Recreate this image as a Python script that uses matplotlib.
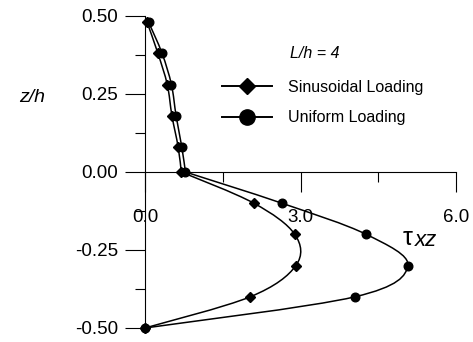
import numpy as np
import matplotlib
matplotlib.use("Agg")
import matplotlib.pyplot as plt
from matplotlib.lines import Line2D
from matplotlib.path import Path
from matplotlib.patches import PathPatch

plt.rcParams["font.family"] = ["Liberation Sans", "DejaVu Sans"]

# through-thickness positions and transverse shear stress (L/h = 4)
z_sin = [0.48, 0.38, 0.28, 0.18, 0.08, 0.0, -0.1, -0.2, -0.3, -0.4, -0.5]
tau_sin = [0.04, 0.25, 0.43, 0.52, 0.64, 0.70, 2.10, 2.89, 2.91, 2.03, 0.0]

z_uni = [0.48, 0.38, 0.28, 0.18, 0.08, 0.0, -0.1, -0.2, -0.3, -0.4, -0.5]
tau_uni = [0.07, 0.33, 0.51, 0.60, 0.71, 0.78, 2.64, 4.27, 5.07, 4.05, 0.0]

x_ticks = [0.0, 3.0, 6.0]
x_ticklabels = ["0.0", "3.0", "6.0"]
y_ticks = [0.5, 0.25, 0.0, -0.25, -0.5]
y_ticklabels = ["0.50", "0.25", "0.00", "-0.25", "-0.50"]

W, H = 473, 342


def smooth_path(xs, ys, corner=None):
    # Catmull-Rom curve through the points as cubic Bezier segments;
    # the point at index `corner` is kept as a sharp kink
    pts = np.column_stack([xs, ys]).astype(float)
    n = len(pts)
    verts = [pts[0]]
    codes = [Path.MOVETO]
    for i in range(n - 1):
        p1 = pts[i]
        p2 = pts[i + 1]
        p0 = pts[i - 1] if (i > 0 and i != corner) else p1
        p3 = pts[i + 2] if (i + 2 < n and i + 1 != corner) else p2
        verts += [p1 + (p2 - p0) / 6.0, p2 - (p3 - p1) / 6.0, p2]
        codes += [Path.CURVE4] * 3
    return Path(verts, codes)


fig = plt.figure(figsize=(W / 100, H / 100), dpi=100)
ax = fig.add_axes([145 / W, 1 - 328 / H, (456 - 145) / W, (328 - 16) / H])
ax.patch.set_visible(False)

for xs, zs, mk, ms in [(tau_sin, z_sin, "D", 4.6), (tau_uni, z_uni, "o", 6.2)]:
    mid = zs.index(0.0)
    ax.add_patch(PathPatch(smooth_path(xs, zs, corner=mid), facecolor="none",
                           edgecolor="black", lw=1.1, clip_on=False))
    ax.plot(xs, zs, linestyle="none", marker=mk, ms=ms, color="black",
            clip_on=False, zorder=3)

ax.set_xlim(0, 6)
ax.set_ylim(-0.5, 0.5)

ax.spines["top"].set_visible(False)
ax.spines["right"].set_visible(False)
ax.spines["bottom"].set_position(("data", 0))
for s in ("left", "bottom"):
    ax.spines[s].set_linewidth(0.8)

ax.set_xticks(x_ticks)
ax.set_xticklabels(x_ticklabels)
ax.set_xticks([1.5, 4.5], minor=True)
ax.set_yticks(y_ticks)
ax.set_yticklabels(y_ticklabels)
ax.set_yticks([0.375, 0.125, -0.125, -0.375], minor=True)

ax.tick_params(which="major", direction="out", length=14.4, width=0.8,
               labelsize=13.5)
ax.tick_params(which="minor", direction="out", length=7.2, width=0.8)
ax.tick_params(axis="x", which="major", pad=12.5)
ax.tick_params(axis="y", which="major", pad=5)

fig.text(32 / W, 1 - 97 / H, "z/h", style="italic", fontsize=14,
         ha="center", va="center")
fig.text(403 / W, 1 - 245 / H, "τ", fontsize=18, ha="left", va="baseline")
fig.text(415 / W, 1 - 246 / H, "xz", style="italic", fontsize=16,
         ha="left", va="baseline")

fig.text(315 / W, 1 - 54 / H, "L/h = 4", style="italic", fontsize=11.5,
         ha="center", va="center")

handles = [
    Line2D([0], [0], color="black", lw=1.4, marker="D", ms=7.8),
    Line2D([0], [0], color="black", lw=1.4, marker="o", ms=11),
]
ax.legend(handles, ["Sinusoidal Loading", "Uniform Loading"],
          loc="upper left", bbox_to_anchor=(222 / W, 1 - 80 / H),
          bbox_transform=fig.transFigure, frameon=False, borderpad=0,
          borderaxespad=0, handlelength=3.13, handletextpad=1.0,
          labelspacing=0.95, fontsize=11.5)

fig.savefig("out.png", dpi=100)
